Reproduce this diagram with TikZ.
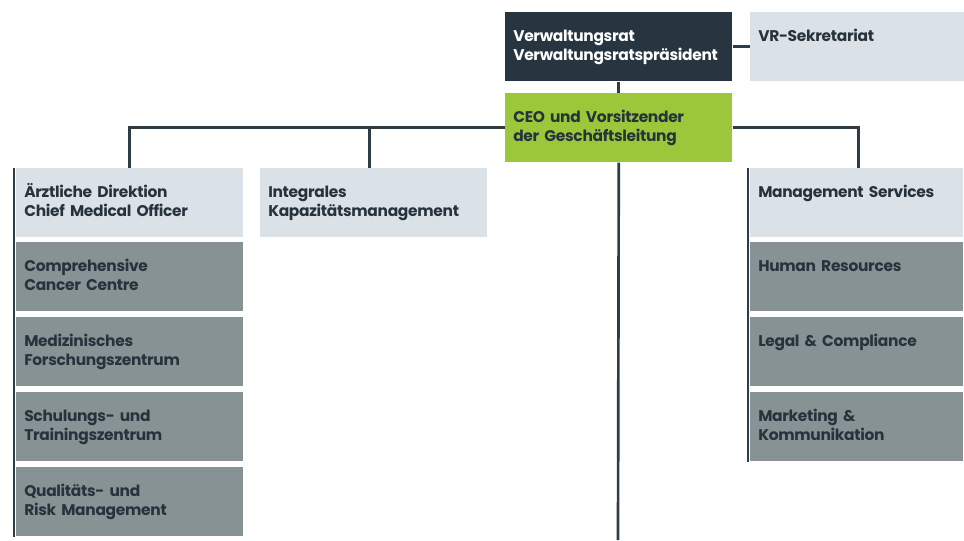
\documentclass[tikz,border=0pt]{standalone}
\usepackage{fontspec}
\setmainfont{Poppins}[BoldFont={Poppins Bold},BoldFeatures={LetterSpace=-2,WordSpace=0.75}]
\usetikzlibrary{positioning,calc}
\definecolor{navy}{HTML}{263540}
\definecolor{lightbox}{HTML}{DAE1E7}
\definecolor{graybox}{HTML}{879295}
\definecolor{greenbox}{HTML}{9BC83B}
\definecolor{linec}{HTML}{2E3C46}
\definecolor{textc}{HTML}{27333C}
\begin{document}
\begin{tikzpicture}[x=0.75pt,y=-0.75pt,
  box/.style={draw=none,anchor=north west,inner sep=0pt,minimum width=#1*0.75pt,minimum height=69*0.75pt},
  box/.default=227,
  lbl/.style={anchor=base west,inner sep=0pt,text width=215*0.75pt,align=left,
    font=\fontsize{11.6}{14.25}\selectfont\bfseries,text=textc},
  conn/.style={draw=linec,line width=2pt}]
\useasboundingbox (0,0) rectangle (964,540);
% boxes
\node[box,fill=navy] (vr) at (505,12) {};
\node[box=214,fill=lightbox] (sek) at (750,12) {};
\node[box,fill=greenbox] (ceo) at (505,93) {};
\node[box,fill=lightbox] (ad) at (16,168) {};
\node[box,fill=lightbox] (ik) at (260,168) {};
\node[box,fill=graybox] (cc) at (16,242) {};
\node[box,fill=graybox] (mf) at (16,317) {};
\node[box,fill=graybox] (st) at (16,392) {};
\node[box,fill=graybox] (qr) at (16,467) {};
\node[box=213,fill=lightbox] (ms) at (750,168) {};
\node[box=213,fill=graybox] (hr) at (750,242) {};
\node[box=213,fill=graybox] (lc) at (750,317) {};
\node[box=213,fill=graybox] (mk) at (750,392) {};
% labels
\node[lbl,text=white] (tvr) at ([xshift=8*0.75pt,yshift=-29*0.75pt]vr.north west) {Verwaltungsrat\\Verwaltungsratspräsident};
\node[lbl] (tsek) at ([xshift=8*0.75pt,yshift=-29*0.75pt]sek.north west) {VR-Sekretariat};
\node[lbl] (tceo) at ([xshift=8*0.75pt,yshift=-29*0.75pt]ceo.north west) {CEO und Vorsitzender\\der Geschäftsleitung};
\node[lbl] (tad) at ([xshift=8*0.75pt,yshift=-29*0.75pt]ad.north west) {Ärztliche Direktion\\Chief Medical Officer};
\node[lbl] (tik) at ([xshift=8*0.75pt,yshift=-29*0.75pt]ik.north west) {Integrales\\Kapazitätsmanagement};
\node[lbl] (tcc) at ([xshift=8*0.75pt,yshift=-29*0.75pt]cc.north west) {Comprehensive\\Cancer Centre};
\node[lbl] (tmf) at ([xshift=8*0.75pt,yshift=-29*0.75pt]mf.north west) {Medizinisches\\Forschungszentrum};
\node[lbl] (tst) at ([xshift=8*0.75pt,yshift=-29*0.75pt]st.north west) {Schulungs- und\\Trainingszentrum};
\node[lbl] (tqr) at ([xshift=8*0.75pt,yshift=-29*0.75pt]qr.north west) {Qualitäts- und\\Risk Management};
\node[lbl] (tms) at ([xshift=8*0.75pt,yshift=-29*0.75pt]ms.north west) {Management Services};
\node[lbl] (thr) at ([xshift=8*0.75pt,yshift=-29*0.75pt]hr.north west) {Human Resources};
\node[lbl] (tlc) at ([xshift=8*0.75pt,yshift=-29*0.75pt]lc.north west) {Legal \& Compliance};
\node[lbl] (tmk) at ([xshift=8*0.75pt,yshift=-29*0.75pt]mk.north west) {Marketing \&\\Kommunikation};
% connectors
\coordinate (bottom) at (618,540);
\draw[conn] (vr.east) -- (sek.west);
\draw[conn] (vr.south) -- (ceo.north);
\draw[conn] (ceo.south) -- (bottom);
\draw[conn] (ceo.west) -| (ad.north);
\draw[conn] (ceo.west) -| ([xshift=-4*0.75pt]ik.north);
\draw[conn] (ceo.east) -| ([xshift=2*0.75pt]ms.north);
\draw[conn] ([xshift=-2*0.75pt]ad.north west) -- ([xshift=-2*0.75pt]qr.south west);
\draw[conn] ([xshift=-2*0.75pt]ms.north west) -- ([xshift=-2*0.75pt]mk.south west);
\end{tikzpicture}
\end{document}
